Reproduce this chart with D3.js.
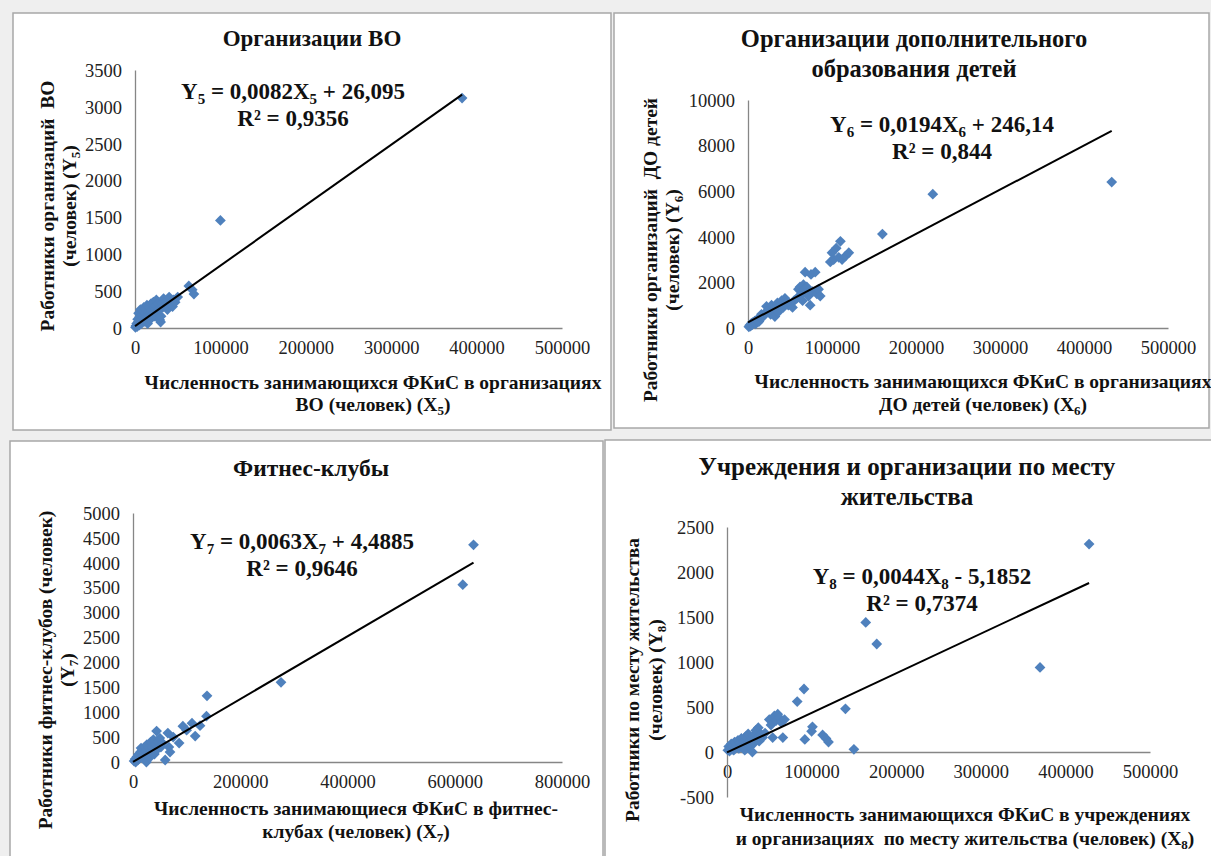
<!DOCTYPE html>
<html><head><meta charset="utf-8">
<script src="https://cdn.jsdelivr.net/npm/d3@7/dist/d3.min.js"></script>
</head><body style="margin:0;padding:0;background:#efefef">
<svg id="c" width="1211" height="856"></svg>
<script>
// ---------- DATA ----------
// Panel 1: Организации ВО
const x5 = [500,1200,2000,2500,3100,3800,4200,5000,5600,6300,7000,7500,8200,9000,9600,10400,11000,11800,12500,13200,14000,14800,15500,16300,17000,18000,18800,19500,20500,21500,22000,23000,24000,25000,26000,27000,28000,29000,30000,30500,31500,32500,33500,35000,36500,38000,40000,42000,44000,45000,47000,50000,63000,67000,69000,100000,383000];
const y5 = [10,30,60,20,120,80,200,40,150,250,110,60,180,230,140,280,90,200,260,150,310,60,220,180,280,120,330,240,190,350,280,160,300,380,220,330,260,110,80,160,340,280,400,310,360,250,420,330,290,380,350,420,570,520,460,1460,3120];
// Panel 2: Организации дополнительного образования детей
const x6 = [1000,2000,3000,4000,5000,6000,8000,9000,10000,12000,13000,15000,16000,18000,20000,22000,24000,25000,27000,28000,30000,32000,33000,35000,36000,38000,40000,42000,44000,45000,48000,50000,53000,55000,58000,60000,62000,64000,65000,66000,67000,68000,70000,72000,74000,75000,77000,80000,82000,84000,86000,98000,100000,102000,105000,108000,110000,112000,116000,120000,160000,220000,433000];
const y6 = [50,120,80,200,150,250,300,180,350,400,280,450,600,500,650,950,700,850,600,1000,800,500,900,1100,700,1000,1200,900,1300,1100,1000,1050,900,1200,1300,1700,1800,1500,1200,1900,1700,2450,1800,1400,1000,2350,1600,2450,1500,1700,1400,2900,3300,3000,3500,3100,3800,3000,3150,3300,4120,5870,6400];
// Panel 3: Фитнес-клубы
const x7 = [2000,4000,5000,7000,9000,10000,12000,14000,15000,16000,18000,20000,21000,22000,24000,25000,26000,28000,30000,31000,33000,34000,36000,38000,40000,42000,44000,45000,47000,50000,52000,55000,60000,65000,67000,69000,75000,86000,93000,100000,110000,116000,125000,137000,138000,276000,615000,635000];
const y7 = [20,60,0,100,40,150,80,200,280,120,250,180,60,300,220,0,350,150,280,90,400,200,300,450,160,350,620,250,400,480,300,380,40,580,300,200,500,380,720,640,780,520,730,920,1330,1600,3560,4360];
// Panel 4: Учреждения и организации по месту жительства
const x8 = [1000,2000,3000,4000,5000,6000,7000,8000,9000,10000,12000,13000,14000,15000,17000,18000,20000,21000,22000,24000,25000,27000,28000,30000,31000,32000,34000,35000,37000,38000,40000,42000,45000,50000,52000,54000,56000,58000,60000,62000,64000,66000,68000,83000,91000,92000,100000,101000,113000,117000,120000,140000,150000,164000,177000,370000,428000];
const y8 = [20,60,10,40,90,30,70,20,110,50,80,130,40,100,150,70,120,20,170,90,200,60,130,0,180,100,240,150,270,120,200,160,210,360,300,160,400,350,420,380,330,160,360,560,700,140,230,280,190,150,110,480,30,1440,1200,940,2310];

// tick labels
const xTicks5 = [0,100000,200000,300000,400000,500000];
const yTicks5 = [0,500,1000,1500,2000,2500,3000,3500];
const xTicks6 = [0,100000,200000,300000,400000,500000];
const yTicks6 = [0,2000,4000,6000,8000,10000];
const xTicks7 = [0,200000,400000,600000,800000];
const yTicks7 = [0,500,1000,1500,2000,2500,3000,3500,4000,4500,5000];
const xTicks8 = [0,100000,200000,300000,400000,500000];
const yTicks8 = [-500,0,500,1000,1500,2000,2500];

// trend-line coefficients (from the equations on the chart)
const trend5 = [0.0082, 26.095];
const trend6 = [0.0194, 246.14];
const trend7 = [0.0063, 4.4885];
const trend8 = [0.0044, -5.1852];

// ---------- LAYOUT ----------
const panels = [
 {box:[13,13,598,417], plot:{l:135,r:562,t:70,b:328}, xs:x5, ys:y5, xTicks:xTicks5, yTicks:yTicks5, trend:trend5,
  title:["Организации ВО"], titleFS:23, titleX:312, titleY:[46],
  yLab:["Работники организаций  ВО","(человек) (Y{5})"], yLabX:[47,69], yLabY:206,
  xLab:["Численность занимающихся ФКиС в организациях","ВО (человек) (X{5})"], xLabX:373, xLabY:[389,411],
  eq:["Y{5} = 0,0082X{5} + 26,095","R² = 0,9356"], eqX:293, eqY:[99,126]},
 {box:[614,13,595,415], plot:{l:748,r:1168,t:100,b:328}, xs:x6, ys:y6, xTicks:xTicks6, yTicks:yTicks6, trend:trend6,
  title:["Организации дополнительного","образования детей"], titleFS:24.5, titleX:914, titleY:[47,77],
  yLab:["Работники организаций  ДО детей","(человек) (Y{6})"], yLabX:[650,672], yLabY:250,
  xLab:["Численность занимающихся ФКиС в организациях","ДО детей (человек) (X{6})"], xLabX:983, xLabY:[388,411],
  eq:["Y{6} = 0,0194X{6} + 246,14","R² = 0,844"], eqX:942, eqY:[132,159]},
 {box:[10,441,593,420], plot:{l:133,r:562,t:513,b:762}, xs:x7, ys:y7, xTicks:xTicks7, yTicks:yTicks7, trend:trend7,
  title:["Фитнес-клубы"], titleFS:23.5, titleX:311, titleY:[476],
  yLab:["Работники фитнес-клубов (человек)","(Y{7})"], yLabX:[45,67], yLabY:670,
  xLab:["Численность занимающиеся ФКиС в фитнес-","клубах (человек) (X{7})"], xLabX:356, xLabY:[815,838],
  eq:["Y{7} = 0,0063X{7} + 4,4885","R² = 0,9646"], eqX:302, eqY:[549,576]},
 {box:[605,440,610,420], plot:{l:727,r:1150,t:527,b:797}, xs:x8, ys:y8, xTicks:xTicks8, yTicks:yTicks8, trend:trend8,
  title:["Учреждения и организации по месту","жительства"], titleFS:25, titleX:907, titleY:[475,505],
  yLab:["Работники по месту жительства","(человек) (Y{8})"], yLabX:[632,655], yLabY:680,
  xLab:["Численность занимающихся ФКиС в учреждениях","и организациях  по месту жительства (человек) (X{8})"], xLabX:965, xLabY:[821,845],
  eq:["Y{8} = 0,0044X{8} - 5,1852","R² = 0,7374"], eqX:922, eqY:[584,611]}
];

const FONT = '"Liberation Serif"';
const svg = d3.select("#c");
const AXIS = "#868686", DOT = "#4f81bd", INK = "#111";
const FS = {tick:18.5, eq:23, lab:19.5};

function rich(text, str, fs){
  const parts = str.split(/(\{[^}]*\})/).filter(s=>s.length);
  let shifted = false;
  const sh = Math.round(fs*0.2);
  parts.forEach(p=>{
    if(p[0]==='{'){
      text.append("tspan").attr("font-size", Math.round(fs*0.65)).attr("dy", sh).text(p.slice(1,-1));
      shifted = true;
    } else {
      const t = text.append("tspan").text(p);
      if(shifted){ t.attr("dy", -sh); shifted=false; }
    }
  });
}

panels.forEach(P=>{
  const g = svg.append("g");
  g.append("rect").attr("x",P.box[0]).attr("y",P.box[1]).attr("width",P.box[2]).attr("height",P.box[3])
    .attr("fill","#fff").attr("stroke","#a8a8a8").attr("stroke-width",1.5);

  const yd = d3.extent(P.yTicks), xd = d3.extent(P.xTicks);
  const x = d3.scaleLinear().domain(xd).range([P.plot.l,P.plot.r]);
  const y = d3.scaleLinear().domain(yd).range([P.plot.b,P.plot.t]);

  // axes
  const ax = g.append("g").attr("transform",`translate(0,${y(0)})`)
    .call(d3.axisBottom(x).tickValues(P.xTicks).tickSize(0).tickSizeOuter(0).tickPadding(13).tickFormat(d3.format("d")));
  const ay = g.append("g").attr("transform",`translate(${x(0)},0)`)
    .call(d3.axisLeft(y).tickValues(P.yTicks).tickSize(0).tickSizeOuter(0).tickPadding(13).tickFormat(d=>d<0?"-"+Math.abs(d):d));
  [ax,ay].forEach(a=>{
    a.attr("font-family",FONT).attr("font-size",FS.tick);
    a.select(".domain").attr("stroke",AXIS).attr("stroke-width",1.3);
    a.selectAll("text").attr("fill","#222").attr("font-family",FONT).attr("font-size",FS.tick);
  });
  ay.selectAll("text").attr("dy","0.34em");

  // points
  const pts = P.xs.map((v,i)=>[v,P.ys[i]]);
  g.append("g").selectAll("path").data(pts).join("path")
    .attr("d", d3.symbol(d3.symbolSquare, 58))
    .attr("transform", d=>`translate(${x(d[0])},${y(d[1])}) rotate(45)`)
    .attr("fill", DOT);

  // trend line (from 0 to largest x)
  const [m,b] = P.trend;
  const xmax = d3.max(P.xs);
  g.append("path")
    .datum([0, xmax])
    .attr("d", d=>d3.line()(d.map(v=>[x(v), y(m*v+b)])))
    .attr("stroke","#000").attr("stroke-width",2).attr("fill","none");

  const T = (sel)=>sel.attr("font-family",FONT).attr("font-weight","bold").attr("fill",INK);
  // title
  P.title.forEach((t,i)=>{
    T(g.append("text")).attr("x",P.titleX).attr("y",P.titleY[i]).attr("text-anchor","middle")
      .attr("font-size",P.titleFS).text(t);
  });
  // equation
  P.eq.forEach((t,i)=>{
    const tx = T(g.append("text")).attr("x",P.eqX).attr("y",P.eqY[i]).attr("text-anchor","middle")
      .attr("font-size",FS.eq);
    rich(tx,t,FS.eq);
  });
  // x label
  P.xLab.forEach((t,i)=>{
    const tx = T(g.append("text")).attr("x",P.xLabX).attr("y",P.xLabY[i]).attr("text-anchor","middle")
      .attr("font-size",FS.lab).style("white-space","pre");
    rich(tx,t,FS.lab);
  });
  // y label
  P.yLab.forEach((t,i)=>{
    const tx = T(g.append("text")).attr("transform",`translate(${P.yLabX[i]},${P.yLabY}) rotate(-90)`)
      .attr("text-anchor","middle").attr("dy","0.35em")
      .attr("font-size",FS.lab).style("white-space","pre");
    rich(tx,t,FS.lab);
  });
});
</script>
</body></html>
